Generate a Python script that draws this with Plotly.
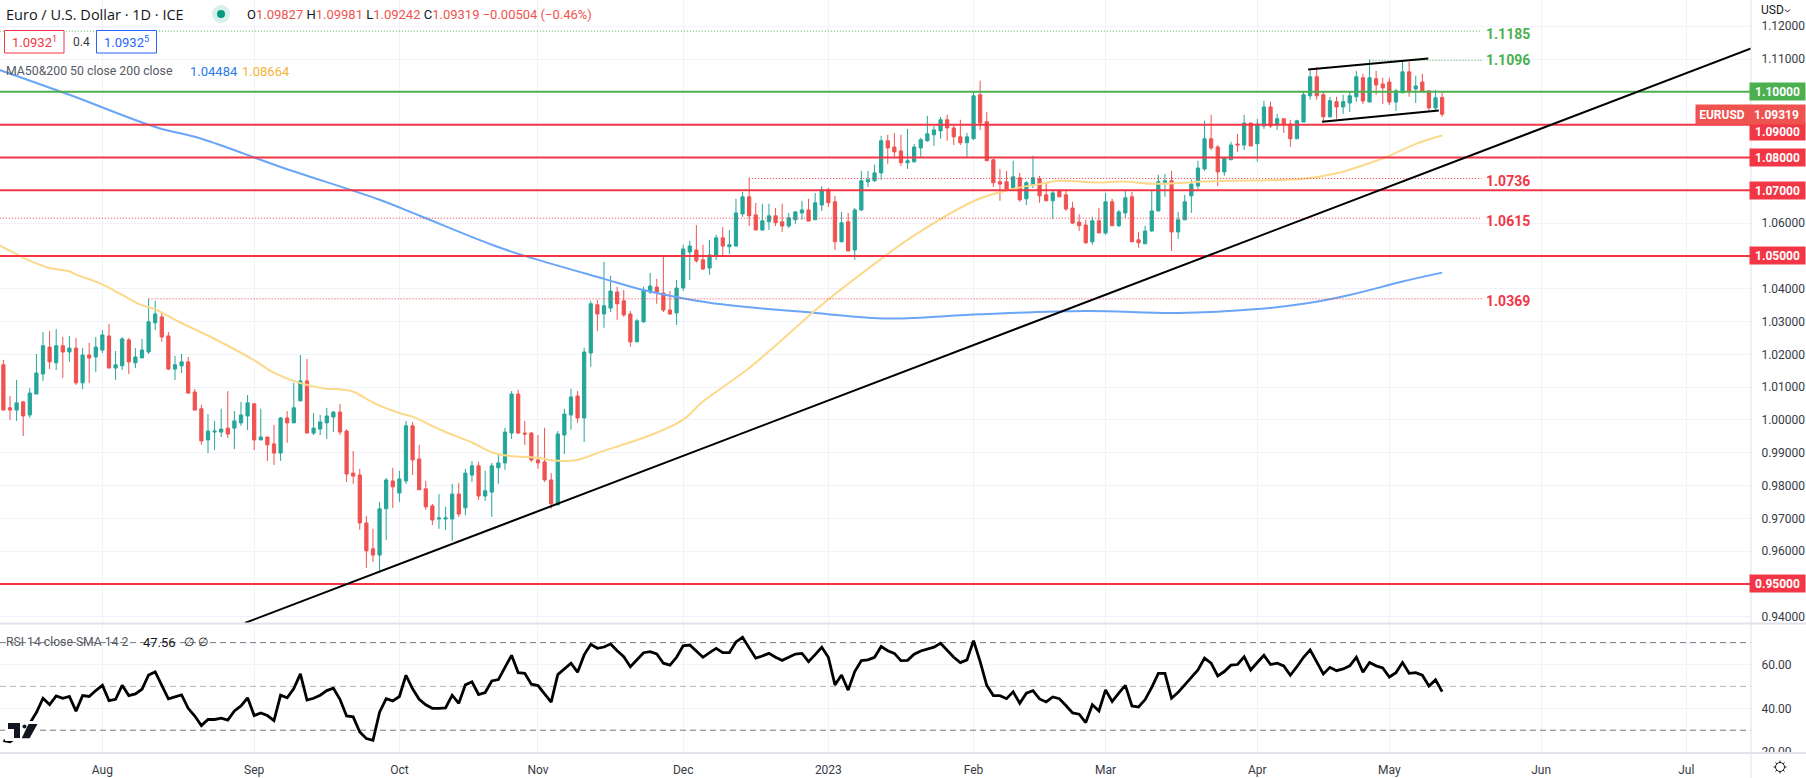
from plotly.subplots import make_subplots
import plotly.graph_objects as go

UP = "#26a69a"
DOWN = "#ef5350"
RED = "#f23645"
GREEN = "#4caf50"
BLUE = "#6aa5f7"
YELLOW = "#fcd98a"
GRID = "#f0f3fa"
BORDER = "#e0e3eb"
TEXT = "#363a45"
FONT = "Roboto"

# daily bars
opens = [
    1.0168, 1.0037, 1.0030, 1.0055, 1.0015, 1.0079, 1.0140, 1.0222, 1.0174, 1.0226,
    1.0207, 1.0219, 1.0113, 1.0198, 1.0192, 1.0213, 1.0256, 1.0158, 1.0165, 1.0244,
    1.0174, 1.0189, 1.0207, 1.0296, 1.0314, 1.0256, 1.0155, 1.0165, 1.0177, 1.0085,
    1.0034, .9939, .9963, .9963, .9975, .9975, .9991, 1.0012, 1.0049, .9939,
    .9948, .9927, .9899, 1.0006, .9991, 1.0058, 1.0119, .9960, .9972, .9991,
    1.0009, 1.0024, .9966, .9838, .9832, .9686, .9607, .9588, .9729, .9814,
    .9777, .9814, .9982, .9881, .9790, .9738, .9698, .9698, .9698, .9774,
    .9732, .9832, .9860, .9768, .9780, .9854, .9869, .9960, 1.0079, .9960,
    .9960, .9878, .9872, .9817, .9741, .9954, 1.0015, 1.0073, 1.0006, 1.0204,
    1.0351, 1.0323, 1.0341, 1.0390, 1.0363, 1.0323, 1.0238, 1.0299, 1.0390, 1.0405,
    1.0387, 1.0335, 1.0326, 1.0402, 1.0512, 1.0518, 1.0488, 1.0463, 1.0500, 1.0555,
    1.0528, 1.0530, 1.0628, 1.0680, 1.0625, 1.0579, 1.0604, 1.0622, 1.0604, 1.0591,
    1.0610, 1.0631, 1.0640, 1.0610, 1.0655, 1.0701, 1.0665, 1.0543, 1.0604, 1.0518,
    1.0640, 1.0726, 1.0729, 1.0753, 1.0851, 1.0832, 1.0820, 1.0784, 1.0787, 1.0829,
    1.0851, 1.0869, 1.0881, 1.0915, 1.0890, 1.0863, 1.0845, 1.0857, 1.0991, 1.0909,
    1.0793, 1.0726, 1.0726, 1.0707, 1.0738, 1.0674, 1.0716, 1.0735, 1.0686, 1.0668,
    1.0698, 1.0686, 1.0646, 1.0603, 1.0594, 1.0543, 1.0607, 1.0570, 1.0665, 1.0592,
    1.0631, 1.0680, 1.0549, 1.0537, 1.0576, 1.0637, 1.0723, 1.0729, 1.0573, 1.0610,
    1.0683, 1.0713, 1.0765, 1.0857, 1.0832, 1.0756, 1.0793, 1.0841, 1.0838, 1.0905,
    1.0842, 1.0896, 1.0954, 1.0899, 1.0918, 1.0902, 1.0857, 1.0908, 1.0988, 1.1046,
    1.0991, 1.0924, 1.0970, 1.0954, 1.0966, 1.0985, 1.1043, 1.0969, 1.1040, 1.1024,
    1.1030, 1.0969, 1.0997, 1.1061, 1.1009, 1.1030, 1.1003, 1.0951, 1.0983,
]
highs = [
    1.0183, 1.0073, 1.0122, 1.0058, 1.0097, 1.0201, 1.0268, 1.0271, 1.0277, 1.0253,
    1.0256, 1.0250, 1.0219, 1.0235, 1.0253, 1.0274, 1.0293, 1.0210, 1.0253, 1.0250,
    1.0219, 1.0247, 1.0369, 1.0363, 1.0326, 1.0268, 1.0195, 1.0201, 1.0192, 1.0094,
    1.0046, 1.0018, .9997, 1.0034, 1.0088, 1.0027, 1.0055, 1.0076, 1.0052, 1.0034,
    .9948, .9985, 1.0009, 1.0027, 1.0113, 1.0198, 1.0186, 1.0021, 1.0015, 1.0037,
    1.0027, 1.0049, .9972, .9905, .9851, .9707, .9668, .9750, .9823, .9854,
    .9845, .9997, .9994, .9924, .9814, .9744, .9774, .9735, .9805, .9808,
    .9851, .9875, .9872, .9845, .9869, .9896, .9976, 1.0088, 1.0092, .9997,
    .9963, .9954, .9976, .9838, .9966, 1.0034, 1.0095, 1.0088, 1.0220, 1.0363,
    1.0366, 1.0482, 1.0439, 1.0406, 1.0396, 1.0332, 1.0308, 1.0406, 1.0448, 1.0430,
    1.0500, 1.0393, 1.0427, 1.0534, 1.0546, 1.0594, 1.0534, 1.0549, 1.0564, 1.0588,
    1.0579, 1.0674, 1.0695, 1.0738, 1.0662, 1.0659, 1.0659, 1.0646, 1.0659, 1.0631,
    1.0637, 1.0668, 1.0674, 1.0692, 1.0713, 1.0707, 1.0683, 1.0634, 1.0631, 1.0646,
    1.0759, 1.0759, 1.0778, 1.0866, 1.0869, 1.0875, 1.0869, 1.0887, 1.0841, 1.0860,
    1.0927, 1.0896, 1.0924, 1.0930, 1.0899, 1.0915, 1.0875, 1.1000, 1.1034, 1.0939,
    1.0796, 1.0765, 1.0759, 1.0790, 1.0753, 1.0728, 1.0805, 1.0744, 1.0723, 1.0698,
    1.0704, 1.0698, 1.0665, 1.0627, 1.0610, 1.0619, 1.0646, 1.0692, 1.0674, 1.0640,
    1.0698, 1.0695, 1.0573, 1.0592, 1.0701, 1.0747, 1.0750, 1.0759, 1.0634, 1.0686,
    1.0732, 1.0790, 1.0912, 1.0930, 1.0838, 1.0801, 1.0848, 1.0872, 1.0930, 1.0905,
    1.0918, 1.0973, 1.0970, 1.0933, 1.0918, 1.0915, 1.0915, 1.1000, 1.1064, 1.1076,
    1.1000, 1.0985, 1.0985, 1.0991, 1.1000, 1.1064, 1.1055, 1.1098, 1.1064, 1.1043,
    1.1043, 1.1009, 1.1094, 1.1091, 1.1049, 1.1055, 1.1003, 1.1006, 1.0998,
]
lows = [
    1.0030, 1.0000, .9997, .9951, 1.0006, 1.0079, 1.0119, 1.0155, 1.0152, 1.0128,
    1.0177, 1.0107, 1.0094, 1.0113, 1.0146, 1.0204, 1.0158, 1.0122, 1.0152, 1.0140,
    1.0158, 1.0189, 1.0201, 1.0274, 1.0238, 1.0152, 1.0122, 1.0143, 1.0079, 1.0030,
    .9924, .9899, .9908, .9948, .9945, .9911, .9982, .9969, .9908, .9939,
    .9875, .9863, .9875, .9930, .9991, 1.0058, .9960, .9954, .9954, .9942,
    .9963, .9954, .9811, .9805, .9665, .9549, .9567, .9534, .9634, .9732,
    .9750, .9805, .9832, .9787, .9726, .9680, .9668, .9665, .9631, .9704,
    .9710, .9811, .9756, .9753, .9704, .9805, .9848, .9942, .9957, .9924,
    .9872, .9851, .9811, .9729, .9741, .9896, .9970, .9991, .9933, 1.0162,
    1.0271, 1.0281, 1.0329, 1.0305, 1.0314, 1.0223, 1.0238, 1.0296, 1.0384, 1.0354,
    1.0329, 1.0320, 1.0290, 1.0393, 1.0427, 1.0479, 1.0457, 1.0442, 1.0488, 1.0500,
    1.0506, 1.0528, 1.0619, 1.0591, 1.0579, 1.0576, 1.0579, 1.0591, 1.0573, 1.0585,
    1.0598, 1.0610, 1.0606, 1.0610, 1.0637, 1.0649, 1.0518, 1.0543, 1.0515, 1.0488,
    1.0637, 1.0710, 1.0726, 1.0732, 1.0780, 1.0802, 1.0774, 1.0765, 1.0784, 1.0802,
    1.0848, 1.0835, 1.0857, 1.0851, 1.0838, 1.0838, 1.0802, 1.0854, 1.0884, 1.0790,
    1.0710, 1.0668, 1.0704, 1.0707, 1.0665, 1.0655, 1.0707, 1.0662, 1.0668, 1.0613,
    1.0680, 1.0637, 1.0597, 1.0576, 1.0537, 1.0534, 1.0570, 1.0564, 1.0592, 1.0588,
    1.0616, 1.0543, 1.0525, 1.0537, 1.0573, 1.0637, 1.0680, 1.0515, 1.0552, 1.0610,
    1.0631, 1.0704, 1.0759, 1.0823, 1.0713, 1.0744, 1.0793, 1.0817, 1.0823, 1.0835,
    1.0787, 1.0887, 1.0890, 1.0884, 1.0875, 1.0832, 1.0857, 1.0908, 1.0976, 1.0976,
    1.0908, 1.0921, 1.0918, 1.0933, 1.0939, 1.0970, 1.0963, 1.0969, 1.0991, 1.0963,
    1.0960, 1.0942, 1.0997, 1.0985, 1.0966, 1.1000, 1.0942, 1.0942, 1.0924,
]
closes = [
    1.0030, 1.0030, 1.0052, 1.0012, 1.0082, 1.0143, 1.0226, 1.0177, 1.0226, 1.0207,
    1.0219, 1.0113, 1.0198, 1.0189, 1.0222, 1.0259, 1.0158, 1.0168, 1.0247, 1.0177,
    1.0192, 1.0213, 1.0299, 1.0323, 1.0253, 1.0155, 1.0168, 1.0177, 1.0082, 1.0030,
    .9936, .9966, .9966, .9972, .9957, .9997, 1.0015, 1.0052, .9939, .9948,
    .9924, .9899, 1.0006, .9991, 1.0037, 1.0119, .9960, .9975, .9994, 1.0012,
    1.0024, .9963, .9835, .9829, .9686, .9601, .9588, .9729, .9817, .9796,
    .9820, .9982, .9878, .9787, .9735, .9695, .9701, .9701, .9774, .9713,
    .9838, .9860, .9768, .9784, .9860, .9869, .9963, 1.0079, .9960, .9957,
    .9878, .9869, .9817, .9744, .9957, 1.0018, 1.0070, 1.0006, 1.0207, 1.0354,
    1.0323, 1.0348, 1.0393, 1.0354, 1.0320, 1.0238, 1.0302, 1.0396, 1.0408, 1.0390,
    1.0335, 1.0323, 1.0402, 1.0521, 1.0530, 1.0485, 1.0460, 1.0503, 1.0555, 1.0530,
    1.0534, 1.0631, 1.0680, 1.0622, 1.0579, 1.0607, 1.0622, 1.0601, 1.0591, 1.0616,
    1.0634, 1.0640, 1.0606, 1.0662, 1.0701, 1.0662, 1.0543, 1.0601, 1.0515, 1.0640,
    1.0729, 1.0732, 1.0753, 1.0851, 1.0829, 1.0817, 1.0784, 1.0790, 1.0832, 1.0854,
    1.0872, 1.0884, 1.0915, 1.0890, 1.0863, 1.0845, 1.0863, 1.0988, 1.0905, 1.0790,
    1.0723, 1.0719, 1.0704, 1.0741, 1.0671, 1.0723, 1.0738, 1.0683, 1.0668, 1.0692,
    1.0680, 1.0643, 1.0600, 1.0592, 1.0540, 1.0607, 1.0570, 1.0665, 1.0592, 1.0634,
    1.0677, 1.0543, 1.0540, 1.0576, 1.0637, 1.0726, 1.0729, 1.0573, 1.0610, 1.0665,
    1.0719, 1.0768, 1.0857, 1.0829, 1.0756, 1.0799, 1.0838, 1.0838, 1.0905, 1.0835,
    1.0902, 1.0954, 1.0896, 1.0918, 1.0902, 1.0857, 1.0912, 1.0991, 1.1046, 1.0988,
    1.0924, 1.0973, 1.0954, 1.0970, 1.0988, 1.1046, 1.0972, 1.1043, 1.1021, 1.1012,
    1.0969, 1.1003, 1.1061, 1.1000, 1.1018, 1.1000, 1.0951, 1.0982, 1.0932,
]
bars = list(range(len(closes)))

rsi = [
    25.3, 24.7, 26.8, 28.3, 33.2, 38.1, 44.6, 41.7, 45.7, 44.6,
    45.4, 38.7, 45.8, 45.4, 48.1, 50.5, 43.5, 44.1, 50.5, 45.8,
    46.6, 48.7, 55.2, 56.6, 50.5, 44.3, 45.2, 46.1, 40.0, 36.5,
    32.1, 34.9, 34.9, 35.5, 34.6, 38.8, 41.1, 44.8, 36.7, 37.9,
    36.7, 34.4, 46.0, 44.8, 49.0, 55.7, 43.8, 44.6, 46.0, 48.1,
    49.2, 44.1, 36.5, 36.1, 29.2, 26.2, 25.4, 38.2, 44.4, 43.4,
    45.4, 55.1, 48.9, 44.1, 41.6, 40.0, 40.0, 40.2, 46.0, 42.3,
    50.7, 52.1, 46.3, 47.2, 52.5, 53.1, 58.7, 64.2, 56.3, 56.0,
    51.0, 50.4, 46.6, 42.8, 55.4, 58.0, 60.6, 56.5, 64.4, 69.2,
    67.4, 68.0, 69.4, 66.3, 63.6, 59.0, 62.4, 65.4, 65.9, 64.8,
    60.6, 59.7, 63.3, 68.5, 68.9, 66.0, 63.3, 65.4, 67.4, 65.4,
    65.4, 70.3, 72.4, 67.6, 62.9, 63.9, 65.1, 63.3, 61.9, 63.3,
    64.8, 65.1, 61.3, 64.5, 67.9, 63.3, 50.7, 55.2, 48.3, 56.8,
    61.8, 62.1, 63.3, 68.2, 66.3, 65.1, 61.8, 61.9, 64.7, 66.2,
    67.1, 67.9, 69.7, 66.3, 63.3, 60.9, 62.1, 70.9, 61.3, 50.5,
    45.8, 45.8, 44.4, 47.5, 42.3, 46.9, 48.1, 44.3, 42.9, 45.2,
    44.4, 41.3, 37.9, 37.3, 33.5, 41.6, 38.8, 48.4, 43.1, 46.9,
    50.5, 41.1, 40.6, 44.0, 49.6, 56.0, 56.0, 44.6, 47.3, 50.7,
    54.2, 57.5, 62.9, 60.6, 54.8, 56.8, 59.7, 60.0, 63.5, 57.5,
    60.9, 64.2, 60.0, 60.6, 59.4, 55.1, 59.0, 63.3, 66.7, 61.3,
    55.7, 58.7, 57.2, 58.0, 59.4, 63.3, 56.5, 60.9, 59.4, 58.4,
    54.3, 56.3, 60.9, 56.0, 56.3, 55.1, 50.2, 53.0, 47.6,
]

# moving averages, read at the bends
ma200_bars = [-0.6, 10, 23, 30, 42, 57, 63, 74, 79, 91, 97, 107, 123, 134, 148, 164, 178, 190, 197, 204, 212, 218]
ma200 = [1.1067, 1.0991, 1.0893, 1.0857, 1.0771, 1.0671, 1.0623, 1.0534, 1.0500, 1.0430, 1.0396,
         1.0357, 1.0326, 1.0309, 1.0322, 1.0332, 1.0326, 1.0338, 1.0354, 1.0381, 1.0422, 1.0449]
ma50_bars = [-0.6, 2.5, 4.5, 7, 10, 11, 14.6, 18, 20.7, 23, 26.8, 31.8, 37.9, 40.9, 44.4, 49, 50.5, 53, 56, 60, 62,
             66.2, 71.2, 74.2, 76.8, 81.3, 83.3, 86.9, 90.4, 95, 99, 103, 106, 112.6, 117.7, 123.7, 132.8,
             137.9, 147.5, 153, 157.5, 160, 165.7, 169.7, 174.2, 183.8, 197, 202, 206.6, 210, 214.2, 218]
ma50 = [1.0532, 1.0500, 1.0481, 1.0463, 1.0453, 1.0443, 1.0417, 1.0381, 1.0352, 1.0337, 1.0297, 1.0249, 1.0183,
        1.0145, 1.0116, 1.0095, 1.0094, 1.0086, 1.0053, 1.0021, 1.0010, .9970, .9929, .9900, .9890, .9884, .9876,
        .9878, .9902, .9932, .9961, 1.0001, 1.0056, 1.0152, 1.0239, 1.0346, 1.0488, 1.0561, 1.0671, 1.0704, 1.0721,
        1.0729, 1.0724, 1.0727, 1.0720, 1.0728, 1.0735, 1.0752, 1.0780, 1.0805, 1.0843, 1.0867]

# drawn lines
trend_bars = [36.6, 264.8]
trend_prices = [.9381, 1.1132]
channel_top_bars = [197.7, 215.9]
channel_top_prices = [1.1068, 1.1102]
channel_low_bars = [199.8, 217.5]
channel_low_prices = [1.0909, 1.0943]

red_levels = [1.09, 1.08, 1.07, 1.05, .95]
green_level = 1.10
dotted_levels = [1.1185, 1.1096, 1.0736, 1.0615, 1.0369]
dotted_starts = [-1, 207, 113, -1, 22]
dotted_colors = [GREEN, GREEN, RED, RED, RED]
dotted_end = 224

price_ticks = [.94, .96, .97, .98, .99, 1.00, 1.01, 1.02, 1.03, 1.04, 1.06, 1.11, 1.12]
grid_only_ticks = [.95, 1.05, 1.07, 1.08, 1.09, 1.10]
rsi_ticks = [20, 40, 60]
rsi_bands = [70, 50, 30]
rsi_band_colors = ["#787b86", "#b2b5be", "#787b86"]
month_bars = [15, 38, 60, 81, 103, 125, 147, 167, 190, 210, 233, 255]
month_labels = ["Aug", "Sep", "Oct", "Nov", "Dec", "2023", "Feb", "Mar", "Apr", "May", "Jun", "Jul"]

W, H = 1806, 778
PLOT_BOTTOM = 753
PLOT_RIGHT = 1751
X_RANGE = [-0.515, 264.8]


def px(x):
    return x / PLOT_RIGHT


def py(y):
    return 1 - y / PLOT_BOTTOM


fig = make_subplots(rows=2, cols=1, shared_xaxes=True, vertical_spacing=0)

fig.add_trace(go.Candlestick(
    x=bars, open=opens, high=highs, low=lows, close=closes,
    increasing=dict(line=dict(color=UP, width=1), fillcolor=UP),
    decreasing=dict(line=dict(color=DOWN, width=1), fillcolor=DOWN),
    whiskerwidth=0), row=1, col=1)


def add_line(x, y, color, width, dash="solid", row=1, shape="linear"):
    fig.add_trace(go.Scatter(x=x, y=y, mode="lines", hoverinfo="skip",
                             line=dict(color=color, width=width, dash=dash, shape=shape)), row=row, col=1)


add_line(ma200_bars, ma200, BLUE, 2, shape="spline")
add_line(ma50_bars, ma50, YELLOW, 2, shape="spline")
for level, start, color in zip(dotted_levels, dotted_starts, dotted_colors):
    add_line([start, dotted_end], [level, level], color, 1, "1px,2px")
for level in red_levels:
    add_line(X_RANGE, [level, level], RED, 2)
add_line(X_RANGE, [green_level, green_level], GREEN, 2)
add_line(trend_bars, trend_prices, "#000000", 2)
add_line(channel_top_bars, channel_top_prices, "#000000", 2)
add_line(channel_low_bars, channel_low_prices, "#000000", 2)

for band, color in zip(rsi_bands, rsi_band_colors):
    add_line(X_RANGE, [band, band], color, 1, "6px,4px", row=2)
add_line(bars, rsi, "#000000", 2.8, row=2)

fig.update_layout(
    width=W, height=H, showlegend=False, paper_bgcolor="white", plot_bgcolor="white",
    margin=dict(l=0, r=W - PLOT_RIGHT, t=0, b=H - PLOT_BOTTOM),
    font=dict(family=FONT, size=12, color=TEXT), boxgap=0.3,
)
fig.update_xaxes(range=X_RANGE, showgrid=True, gridcolor=GRID, gridwidth=1, zeroline=False, showline=False,
                 tickvals=month_bars, ticktext=month_labels, rangeslider_visible=False)
fig.update_xaxes(showticklabels=False, ticks="", row=1, col=1)
fig.update_xaxes(ticks="outside", ticklen=6, tickcolor="rgba(0,0,0,0)", row=2, col=1)
fig.update_yaxes(side="right", showgrid=True, gridcolor=GRID, gridwidth=1, zeroline=False, showline=False,
                 ticks="outside", ticklen=7, tickcolor="rgba(0,0,0,0)")
fig.update_yaxes(domain=[1 - 623 / PLOT_BOTTOM, 1], range=[.9381, 1.1280], tickvals=price_ticks + grid_only_ticks,
                 ticktext=[f"{v:.5f}" for v in price_ticks] + [" "] * len(grid_only_ticks), row=1, col=1)
fig.update_yaxes(domain=[0, 1 - 624 / PLOT_BOTTOM], range=[19.6, 78.5], tickvals=rsi_ticks,
                 ticktext=[f"{v:.2f}" for v in rsi_ticks], row=2, col=1)


def text(x, y, s, color=TEXT, size=12, bold=False, anchor="left", family=FONT):
    fig.add_annotation(xref="paper", yref="paper", x=px(x), y=py(y), text=f"<b>{s}</b>" if bold else s,
                       showarrow=False, xanchor=anchor, yanchor="middle", borderpad=0,
                       font=dict(color=color, size=size, family=family))


def box(x0, y0, x1, y1, fill="white", line=None):
    fig.add_shape(type="rect", xref="paper", yref="paper", x0=px(x0), x1=px(x1), y0=py(y0), y1=py(y1),
                  fillcolor=fill, line=dict(color=line or fill, width=1 if line else 0), layer="above")


# pane borders
for x0, y0, x1, y1 in [(0, 623.5, W, 623.5), (0, 753, W, 753), (PLOT_RIGHT, 0, PLOT_RIGHT, H)]:
    fig.add_shape(type="line", xref="paper", yref="paper", x0=px(x0), x1=px(x1), y0=py(y0), y1=py(y1),
                  line=dict(color=BORDER, width=2 if y0 > 600 and y1 > 600 else 1), layer="above")
box(PLOT_RIGHT + 1, 754, W, 760)

# level tags on the price scale
for level, shift, color in [(1.10, 0, GREEN), (1.09, -7, RED), (1.08, 0, RED), (1.07, 0, RED), (1.05, 0, RED),
                            (.95, 0, RED)]:
    fig.add_annotation(xref="paper", yref="y", x=1.0315, y=level, yshift=shift, text=f"<b>{level:.5f}</b>",
                       showarrow=False, xanchor="right", width=55, height=17, bgcolor=color, borderpad=0,
                       font=dict(color="white", size=12, family=FONT))
fig.add_annotation(xref="paper", yref="y", x=1.0315, y=closes[-1], text="<b>1.09319</b>", showarrow=False,
                   xanchor="right", width=55, height=17, bgcolor=DOWN, font=dict(color="white", size=12, family=FONT))
fig.add_annotation(xref="paper", yref="y", x=px(1749), y=closes[-1], text="<b>EURUSD</b>", showarrow=False,
                   xanchor="right", width=50, height=17, bgcolor=DOWN, font=dict(color="white", size=12, family=FONT))

# level values next to the dotted lines
for level, shift, color in zip(dotted_levels, [-3, 0, -3, -3, -2], dotted_colors):
    fig.add_annotation(xref="x", yref="y", x=224.4, y=level, yshift=shift, text=f"<b>{level:.4f}</b>", showarrow=False,
                       xanchor="left", font=dict(color=color, size=14, family=FONT))

# chart header
text(5, 15, "Euro / U.S. Dollar · 1D · ICE", "#131722", 14.5, family="Open Sans")
fig.add_shape(type="circle", xref="paper", yref="paper", x0=px(212), x1=px(230), y0=py(5), y1=py(23),
              fillcolor="#d8f0ec", line=dict(width=0), layer="above")
fig.add_shape(type="circle", xref="paper", yref="paper", x0=px(217), x1=px(225), y0=py(10), y1=py(18),
              fillcolor="#089981", line=dict(width=0), layer="above")


def red(s):
    return f'<span style="color:{DOWN}">{s}</span>'


text(246, 15, f"O{red('1.09827')} H{red('1.09981')} L{red('1.09242')} C{red('1.09319')} "
     + red("−0.00504 (−0.46%)"), "#131722", 13)
box(4.5, 30.5, 64, 53, "white", RED)
box(96.5, 30.5, 156.5, 53, "white", "#2962ff")
text(34, 42, "1.0932<sup>1</sup>", RED, 13, anchor="center")
text(72, 42, "0.4", TEXT, 12)
text(126, 42, "1.0932<sup>5</sup>", "#2962ff", 13, anchor="center")
text(5, 71, "MA50&amp;200 50 close 200 close", "#555963", 12.3)
text(189, 71, "1.04484", "#2979e8", 13)
text(241, 71, "1.08664", "#f5b335", 13)
text(5, 642, "RSI 14 close SMA 14 2", "#555963", 12.2)
text(142, 642, "47.56", "#131722", 13)
text(183, 642, "∅", "#131722", 12)
text(197, 642, "∅", "#131722", 12)
text(1760, 10, "USD", "#131722", 12)


def path(points, fill=None, color="#131722", width=1):
    d = "M " + " L ".join(f"{px(x)} {py(y)}" for x, y in points)
    fig.add_shape(type="path", xref="paper", yref="paper", path=d + (" Z" if fill else ""), fillcolor=fill,
                  line=dict(color=color, width=width if not fill else 0), layer="above")


path([(1785, 9.5), (1787.5, 12), (1790, 9.5)])

# watermark logo
box(5, 721, 40, 741)
logo = "#131722"
path([(8, 723), (20, 723), (20, 738), (14, 738), (14, 729), (8, 729)], logo)
fig.add_shape(type="circle", xref="paper", yref="paper", x0=px(22.5), x1=px(26.5), y0=py(724.5), y1=py(728.5),
              fillcolor=logo, line=dict(width=0), layer="above")
path([(37.5, 724), (29.6, 738.3), (21.7, 738.3), (28.5, 724)], logo)

# settings gear
cx, cy = 1780, 767
fig.add_shape(type="circle", xref="paper", yref="paper", x0=px(cx - 4.5), x1=px(cx + 4.5), y0=py(cy - 4.5),
              y1=py(cy + 4.5), line=dict(color="#131722", width=1), fillcolor="white", layer="above")
for dx, dy in [(0, 1), (1, 0), (.7, .7), (.7, -.7)]:
    path([(cx + 4.5 * dx, cy + 4.5 * dy), (cx + 6.5 * dx, cy + 6.5 * dy)])
    path([(cx - 4.5 * dx, cy - 4.5 * dy), (cx - 6.5 * dx, cy - 6.5 * dy)])

fig.write_html("out.html", config={"displayModeBar": False},
               post_script="document.body.style.margin='0';document.body.style.overflow='hidden';")
